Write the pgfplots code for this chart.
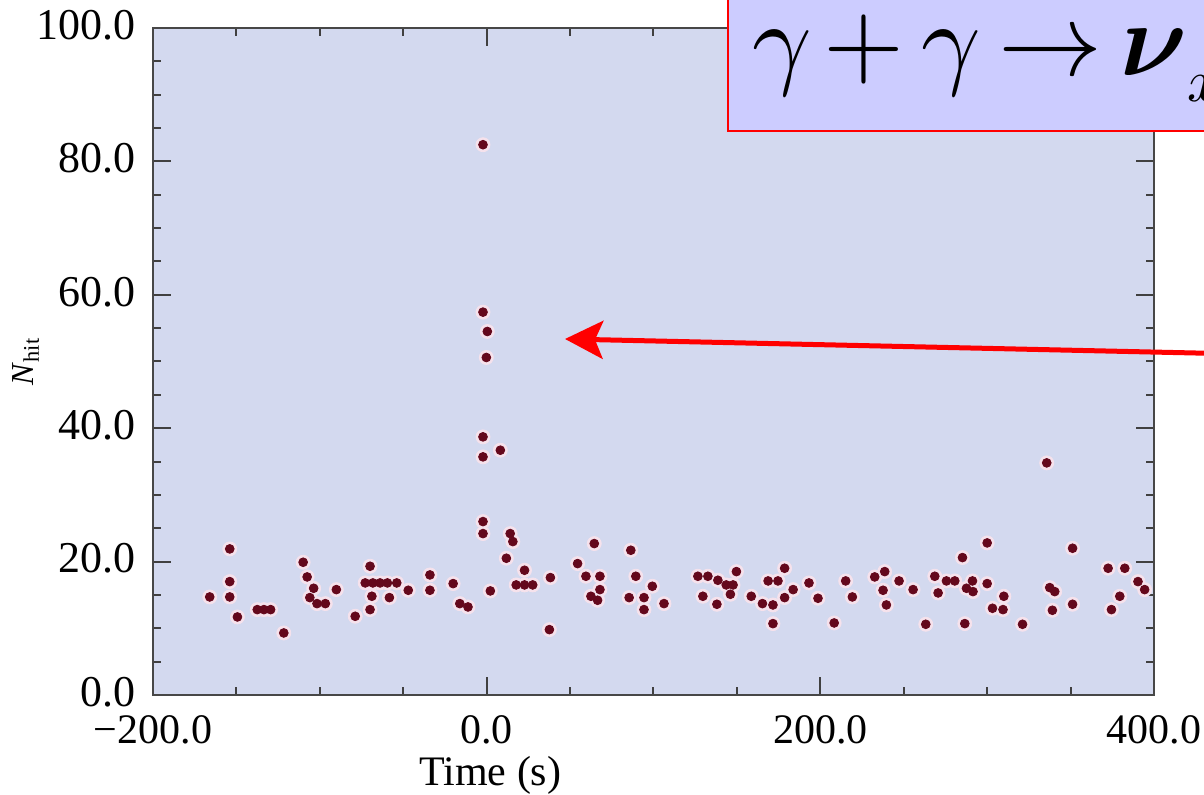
\documentclass[border=0pt]{standalone}
\usepackage{fontspec}
\setmainfont{Liberation Serif}
\usepackage{graphicx}
\usepackage{pgfplots}
\usepackage{pgfplotstable}
\pgfplotsset{compat=1.18}
\usetikzlibrary{arrows.meta}
\definecolor{bgblue}{RGB}{211,217,239}
\definecolor{dotred}{RGB}{100,8,28}
\definecolor{halo}{RGB}{246,226,236}
\definecolor{boxfill}{RGB}{204,204,255}

\pgfplotstableread{
t n
-166 14.7
-154 21.9
-154 17.0
-154 14.7
-149.4 11.7
-137.5 12.8
-133.5 12.8
-129.5 12.8
-121.6 9.3
-110 19.9
-107.6 17.7
-103.7 16.0
-106 14.6
-101.7 13.7
-96.7 13.7
-90.1 15.8
-78.8 11.8
-69.9 19.3
-72.8 16.8
-68.2 16.8
-63.9 16.8
-59.5 16.8
-53.9 16.8
-47 15.7
-68.8 14.8
-69.9 12.8
-58.3 14.6
-34 18.0
-34 15.7
-20.1 16.7
-16.1 13.7
-11.2 13.2
2.2 15.6
-2.2 26.0
-2.2 24.2
-2.2 82.5
-2.2 57.4
0.4 54.5
-0.2 50.6
-2.2 38.7
-2.2 35.7
8.2 36.7
14.1 24.2
15.7 23.0
11.8 20.5
22.7 18.7
17.7 16.5
22.7 16.5
27.6 16.5
38.2 17.6
37.6 9.8
64.5 22.7
54.5 19.7
59.5 17.8
67.9 17.8
67.9 15.8
62.5 14.8
66.5 14.2
86.4 21.7
89.4 17.8
99.3 16.3
85.4 14.6
94.3 14.6
94.3 12.8
106.3 13.7
126.6 17.8
132.6 17.8
129.6 14.8
138 13.6
138.6 17.2
143.6 16.5
149.7 18.5
147.7 16.5
146.1 15.1
158.6 14.8
165.3 13.7
171.6 13.5
171.6 10.7
168.7 17.1
174.6 17.1
178.6 19.0
183.7 15.8
178.6 14.6
193.2 16.8
198.6 14.5
208.3 10.8
215.2 17.1
219.2 14.7
232.6 17.7
238.6 18.5
237.6 15.7
239.6 13.5
247.2 17.1
255.6 15.8
263.2 10.6
268.6 17.8
270.6 15.3
275.6 17.1
280.6 17.1
285.2 20.6
291.2 17.1
287.6 16.0
291.5 15.5
286.6 10.7
300 22.8
300 16.7
310 14.8
303.2 13.0
309.5 12.8
321.2 10.6
335.7 34.8
351.2 22.0
337.5 16.1
340.5 15.5
339.1 12.7
351.2 13.6
372.5 19.0
382.5 19.0
379.5 14.8
374.5 12.8
390.4 17.0
394.4 15.8
}\hits

\begin{document}
\begin{tikzpicture}
\useasboundingbox (0,0) rectangle (602pt,397.5pt);
\clip (0,0) rectangle (602pt,397.5pt);
\begin{axis}[
  at={(76.5pt,50pt)}, anchor=south west,
  scale only axis, width=500.5pt, height=333.5pt,
  xmin=-200, xmax=400, ymin=0, ymax=100,
  axis background/.style={fill=bgblue},
  axis line style={line width=1.4pt, draw=black!72},
  xtick={-200,0,200,400}, xticklabels={−200.0,0.0,200.0,400.0},
  ytick={0,20,40,60,80,100}, yticklabels={0.0,20.0,40.0,60.0,80.0,100.0},
  minor x tick num=3, minor y tick num=3,
  tick align=inside,
  major tick length=9pt, minor tick length=4pt,
  every tick/.style={line width=1pt, black!75},
  xticklabel style={font=\fontsize{21}{23}\selectfont, inner sep=0pt, yshift=-10pt},
  yticklabel style={font=\fontsize{22}{24}\selectfont, inner sep=0pt, xshift=-8.5pt, yshift=1.5pt},
  xlabel={Time (s)},
  xlabel style={font=\fontsize{21}{23}\selectfont, at={(axis description cs:0.337,-0.12)}, anchor=center},
  ylabel={\textit{N}\textsubscript{hit}},
  ylabel style={font=\fontsize{16}{18}\selectfont, at={(axis description cs:-0.127,0.5)}, anchor=center},
]
\addplot[only marks, color=halo, mark=*, mark size=3.5pt] table {\hits};
\addplot[only marks, color=dotred, mark=*, mark size=2.2pt] table {\hits};
\end{axis}
\draw[red, line width=1pt, fill=boxfill] (364pt,332pt) rectangle (640pt,420pt);
\node[anchor=base west, inner sep=0pt] at (376pt,359.5pt)
  {\scalebox{5.2}{$\gamma\mkern2mu{+}\mkern3mu\gamma\mkern3mu{\rightarrow}\mkern3mu\mbox{\boldmath$\nu$}$}\raisebox{-13pt}{\scalebox{3}{$x$}}};
\draw[red, line width=2.5pt, -{Stealth[length=19pt,width=19pt,inset=4pt]}] (620pt,220.5pt) -- (282.5pt,228pt);
\end{tikzpicture}
\end{document}
